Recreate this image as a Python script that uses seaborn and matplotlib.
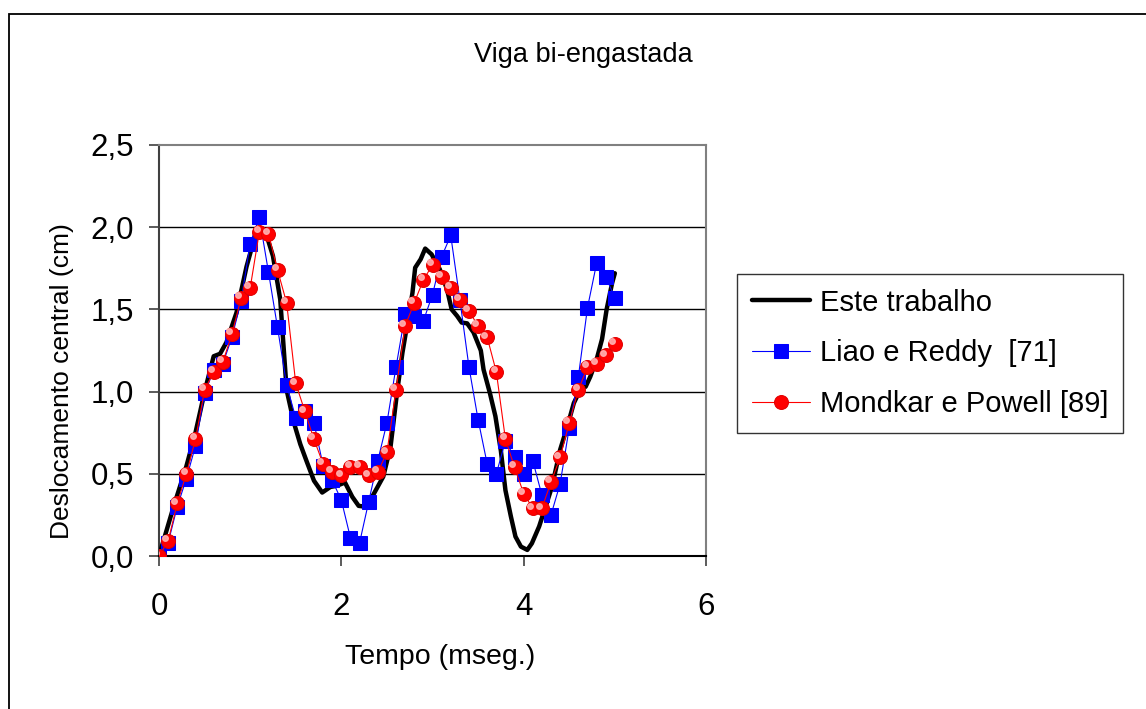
import matplotlib
matplotlib.use("Agg")
import matplotlib.pyplot as plt
import matplotlib.transforms as mtransforms
from matplotlib.patches import Rectangle
from matplotlib.ticker import FuncFormatter
import seaborn as sns

# dados
tempo = [0.0, 0.1, 0.2, 0.3, 0.4, 0.5, 0.6, 0.7, 0.8, 0.9,
         1.0, 1.1, 1.2, 1.3, 1.4, 1.5, 1.6, 1.7, 1.8, 1.9,
         2.0, 2.1, 2.2, 2.3, 2.4, 2.5, 2.6, 2.7, 2.8, 2.9,
         3.0, 3.1, 3.2, 3.3, 3.4, 3.5, 3.6, 3.7, 3.8, 3.9,
         4.0, 4.1, 4.2, 4.3, 4.4, 4.5, 4.6, 4.7, 4.8, 4.9, 5.0]

liao_reddy = [0.00, 0.08, 0.30, 0.47, 0.67, 0.99, 1.13, 1.17, 1.33, 1.55,
              1.90, 2.06, 1.73, 1.39, 1.04, 0.84, 0.88, 0.81, 0.55, 0.46,
              0.34, 0.11, 0.08, 0.33, 0.58, 0.81, 1.15, 1.47, 1.46, 1.43,
              1.59, 1.82, 1.95, 1.56, 1.15, 0.83, 0.56, 0.50, 0.70, 0.60,
              0.50, 0.58, 0.37, 0.25, 0.44, 0.78, 1.09, 1.51, 1.78, 1.70, 1.57]

mondkar_powell = [0.00, 0.09, 0.32, 0.50, 0.71, 1.01, 1.12, 1.18, 1.35, 1.57,
                  1.63, 1.97, 1.96, 1.74, 1.54, 1.05, 0.88, 0.71, 0.56, 0.51,
                  0.49, 0.54, 0.54, 0.49, 0.51, 0.63, 1.01, 1.40, 1.54, 1.68,
                  1.77, 1.70, 1.63, 1.56, 1.49, 1.40, 1.33, 1.12, 0.71, 0.54,
                  0.38, 0.29, 0.29, 0.45, 0.60, 0.81, 1.01, 1.15, 1.17, 1.22, 1.29]

tempo_trabalho = [0.00, 0.16, 0.30, 0.40, 0.505, 0.60, 0.67, 0.74, 0.85, 0.96,
                  1.055, 1.11, 1.18, 1.25, 1.33, 1.40, 1.48, 1.55, 1.62, 1.70,
                  1.79, 1.88, 1.95, 2.04, 2.12, 2.19, 2.26, 2.35, 2.46, 2.54,
                  2.61, 2.67, 2.72, 2.78, 2.81, 2.87, 2.92, 2.99, 3.08, 3.16,
                  3.21, 3.27, 3.32, 3.38, 3.45, 3.53, 3.56, 3.63, 3.69, 3.75,
                  3.80, 3.86, 3.91, 3.97, 4.04, 4.09, 4.17, 4.24, 4.31, 4.40,
                  4.48, 4.55, 4.62, 4.68, 4.73, 4.80, 4.86, 4.91, 4.97, 5.00]
este_trabalho = [0.00, 0.30, 0.545, 0.75, 1.01, 1.215, 1.23, 1.30, 1.48, 1.76,
                 1.95, 1.98, 1.95, 1.825, 1.56, 1.01, 0.81, 0.68, 0.575, 0.458,
                 0.386, 0.42, 0.427, 0.447, 0.36, 0.305, 0.30, 0.372, 0.483, 0.666,
                 0.99, 1.236, 1.40, 1.60, 1.754, 1.805, 1.87, 1.835, 1.744, 1.62,
                 1.50, 1.46, 1.42, 1.415, 1.36, 1.25, 1.134, 0.99, 0.85, 0.64,
                 0.40, 0.24, 0.118, 0.057, 0.037, 0.077, 0.18, 0.30, 0.42, 0.646,
                 0.79, 0.93, 1.01, 1.03, 1.09, 1.195, 1.32, 1.50, 1.66, 1.72]

x_ticks = [0, 2, 4, 6]
y_ticks = [0.0, 0.5, 1.0, 1.5, 2.0, 2.5]

sns.set_theme(style="white")
plt.rcParams["font.family"] = ["Liberation Sans", "DejaVu Sans"]
plt.rcParams["text.color"] = "black"
plt.rcParams["axes.labelcolor"] = "black"

fig = plt.figure(figsize=(11.46, 7.09), dpi=100)
ax = fig.add_axes([159 / 1146, 1 - 556 / 709, 547 / 1146, 411 / 709])

# moldura externa (como no Excel)
fig.patches.append(Rectangle((9 / 1146, -0.2), 1.5, 1.2 - 14 / 709,
                             transform=fig.transFigure, fill=False,
                             edgecolor="black", linewidth=1.3))

# linhas de grade horizontais
for yv in y_ticks[1:-1]:
    ax.axhline(yv, color="black", linewidth=1.0, zorder=1)

sns.lineplot(x=tempo_trabalho, y=este_trabalho, ax=ax, color="black",
             linewidth=3.2, estimator=None, sort=False, label="Este trabalho",
             zorder=3)
sns.lineplot(x=tempo, y=liao_reddy, ax=ax, color="#0000FF", linewidth=0.8,
             marker="s", markersize=9.5, markeredgecolor="#0000FF",
             estimator=None, sort=False, label="Liao e Reddy  [71]", zorder=4)
sns.lineplot(x=tempo, y=mondkar_powell, ax=ax, color="#FF0000", linewidth=0.8,
             marker="o", markersize=10, markeredgecolor="#E00000",
             estimator=None, sort=False, label="Mondkar e Powell [89]", zorder=5)

# brilho dos marcadores vermelhos
brilho = mtransforms.offset_copy(ax.transData, fig=fig, x=-2.0, y=2.0, units="points")
ax.plot(tempo, mondkar_powell, linestyle="none", marker="o", markersize=4,
        color="#FFB0B0", alpha=0.9, transform=brilho, zorder=6)

ax.set_xlim(0, 6)
ax.set_ylim(0, 2.5)
ax.set_xticks(x_ticks)
ax.set_yticks(y_ticks)
ax.yaxis.set_major_formatter(FuncFormatter(lambda v, p: f"{v:.1f}".replace(".", ",")))
ax.tick_params(axis="both", which="major", direction="out", length=7,
               width=1.2, color="#404040", labelcolor="black", labelsize=22.5,
               bottom=True, left=True)
ax.tick_params(axis="x", pad=19)
ax.tick_params(axis="y", pad=11)

for side in ["top", "right"]:
    ax.spines[side].set_color("#808080")
    ax.spines[side].set_linewidth(1.5)
ax.spines["left"].set_color("#404040")
ax.spines["left"].set_linewidth(1.5)
ax.spines["bottom"].set_color("black")
ax.spines["bottom"].set_linewidth(1.5)

ax.set_xlabel("Tempo (mseg.)", fontsize=20.5)
ax.set_ylabel("Deslocamento central (cm)", fontsize=19)
ax.xaxis.set_label_coords((440 - 159) / 547, (556 - 657) / 411)
ax.yaxis.set_label_coords((62 - 159) / 547, (556 - 381) / 411)
ax.xaxis.label.set_va("center")
ax.yaxis.label.set_va("center")

fig.text(583 / 1146, 1 - 55 / 709, "Viga bi-engastada", fontsize=19.5,
         ha="center", va="center")

leg = ax.legend(loc="upper left", bbox_to_anchor=(737 / 1146, 1 - 274 / 709),
                bbox_transform=fig.transFigure, fontsize=21, frameon=True,
                fancybox=False, edgecolor="black", handlelength=2.0,
                handletextpad=0.35, labelspacing=0.78, borderpad=0.5,
                borderaxespad=0)
leg.get_frame().set_linewidth(1.0)

fig.savefig("out.png", dpi=100)
plt.close()
